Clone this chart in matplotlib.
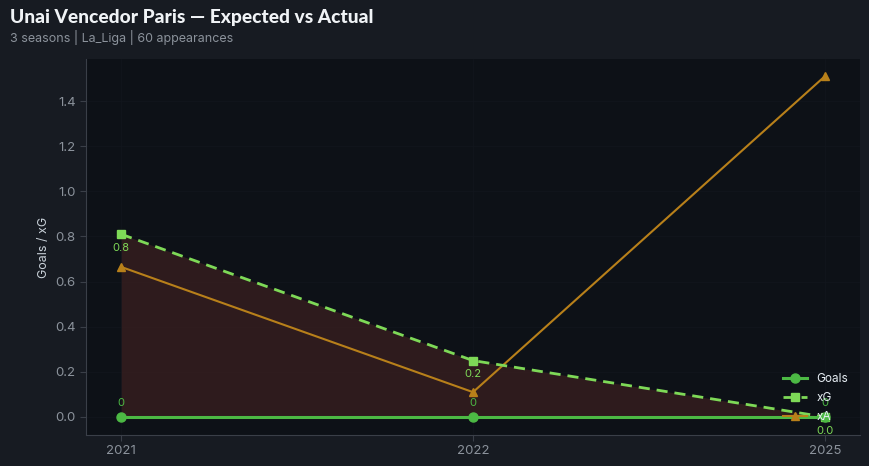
import matplotlib
matplotlib.use("Agg")
import matplotlib.pyplot as plt
import numpy as np

seasons = ["2021", "2022", "2025"]
goals = [0, 0, 0]
xg = [0.81, 0.25, 0.0]
xa = [0.665, 0.11, 1.51]
goal_labels = ["0", "0", "0"]
xg_labels = ["0.8", "0.2", "0.0"]

fig_bg = "#171b22"
ax_bg = "#0d1117"
fig = plt.figure(figsize=(8.69, 4.66), dpi=100, facecolor=fig_bg)
ax = fig.add_axes([0.099, 0.0665, 0.8906, 0.8065], facecolor=ax_bg)

x = np.arange(len(seasons))
ax.fill_between(x, goals, xg, color="#3a1f20", alpha=0.75, zorder=1, linewidth=0)
ax.plot(x, goals, color="#4cb944", lw=2.2, marker="o", ms=6.5, label="Goals", zorder=4)
ax.plot(x, xg, color="#7ed957", lw=2, ls="--", dashes=(4, 2.5), marker="s", ms=6, label="xG", zorder=3)
ax.plot(x, xa, color="#b8801a", lw=1.5, marker="^", ms=6, label="xA", zorder=2)

for xi, g, lab in zip(x, goals, goal_labels):
    ax.annotate(lab, (xi, g), xytext=(0, 10), textcoords="offset points", ha="center",
                va="center", fontsize=8, color="#4cb944", family="Inter", zorder=5)
for xi, v, lab in zip(x, xg, xg_labels):
    ax.annotate(lab, (xi, v), xytext=(0, -10), textcoords="offset points", ha="center",
                va="center", fontsize=8, color="#7ed957", family="Inter", zorder=5)

ax.set_xlim(-0.1, 2.1)
ax.set_ylim(-0.08, 1.586)
ax.set_xticks(x)
ax.set_xticklabels(seasons)
ax.set_yticks(np.arange(0, 1.41, 0.2))
ax.set_yticklabels([f"{v:.1f}" for v in np.arange(0, 1.41, 0.2)])
for lab in ax.get_xticklabels() + ax.get_yticklabels():
    lab.set_family("Inter")
    lab.set_fontsize(9.5)
ax.tick_params(colors="#3a3f48", labelcolor="#8b929b", length=4)
for s in ["top", "right"]:
    ax.spines[s].set_visible(False)
for s in ["left", "bottom"]:
    ax.spines[s].set_color("#3a3f48")
ax.grid(True, color="#12161d", lw=0.5, zorder=0)
ax.set_axisbelow(True)
ax.set_ylabel("Goals / xG", color="#c9d1d9", fontsize=9, family="Inter")

leg = ax.legend(loc="lower right", frameon=False, labelcolor="#e6edf3",
                prop={"family": "Inter", "size": 8.5}, borderaxespad=0.6,
                labelspacing=0.6, handlelength=2.0)

fig.text(0.0115, 0.963, "Unai Vencedor Paris — Expected vs Actual", fontsize=13.8,
         fontweight="black", color="#f0f3f6", va="center", family="Lato")
fig.text(0.0115, 0.92, "3 seasons | La_Liga | 60 appearances", fontsize=9,
         color="#8b929b", va="center", family="Inter")

fig.savefig("out.png", dpi=100, facecolor=fig_bg)
